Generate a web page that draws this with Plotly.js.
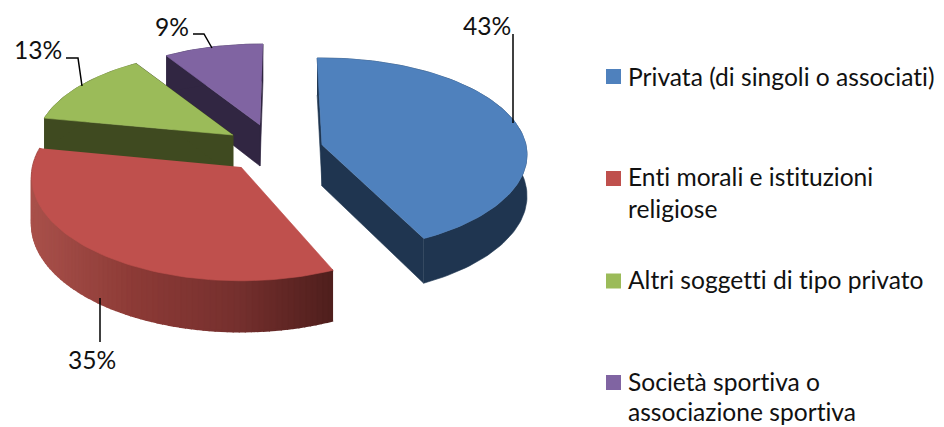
<!DOCTYPE html>
<html><head><meta charset="utf-8">
<script src="https://cdn.plot.ly/plotly-3.0.1.min.js"></script>
<style>html,body{margin:0;padding:0;background:#fff}
svg text{font-variant-ligatures:none !important;font-feature-settings:"liga" 0,"clig" 0,"dlig" 0 !important}</style></head>
<body><div id="chart" style="width:944px;height:427px"></div>
<script>
const categories = ["Privata (di singoli o associati)", "Enti morali e istituzioni", "Altri soggetti di tipo privato", "Società sportiva o"];
const categorySecondLines = ["", "religiose", "", "associazione sportiva"];
const shares = [43, 35, 13, 9];
const labels = ["43%", "35%", "13%", "9%"];
const topColors = ["#4F81BD", "#BF504D", "#9BBB59", "#8064A2"];
const sideColors = ["#1F3550", "#7A2E2B", "#3F4A20", "#312642"];

// 3D view of the exploded pie
const apexX = [322, 241, 233, 260];
const apexY = [145, 167, 135, 125];
const sliceScaleX = [1, 1.02, 0.96, 0.93];
const sliceScaleY = [1, 1.07, 0.96, 0.93];
const sliceDepth = [41, 46, 41, 41];
const edgeTrimStart = [-1.5, 1.5, 0, 0];
const edgeTrimEnd = [-1.8, 0, 0, 1];
const F = 204, G = 95.7, K = 0.1, DEPTH_PERSP = 0.1;
const FONT = "Lato, Carlito, Calibri, sans-serif";
const TEXT = "#111111";
const FS = 24.6;

const rad = d => d * Math.PI / 180;
function pt(i, tDeg) {
  const s = Math.sin(rad(tDeg)), c = Math.cos(rad(tDeg)), w = 1 + K * c;
  return [apexX[i] + sliceScaleX[i] * F * s / w, apexY[i] - sliceScaleY[i] * G * c / w];
}
function dep(i, tDeg) { return sliceDepth[i] * (1 - DEPTH_PERSP * Math.cos(rad(tDeg))); }
function arc(i, a, b) {
  const n = Math.max(2, Math.ceil(Math.abs(b - a) / 1.5)), o = [];
  for (let k = 0; k <= n; k++) o.push(a + (b - a) * k / n);
  return o;
}
function poly(xy, color, name, lw) {
  return {type: "scatter", mode: "lines", x: xy.map(p => p[0]), y: xy.map(p => p[1]),
    fill: "toself", fillcolor: color, line: {color: color, width: lw === undefined ? 0.6 : lw},
    hoverinfo: "skip", showlegend: false, name: name};
}
function lerp(stops, u) {
  const n = stops.length - 1, p = Math.min(n - 1e-6, Math.max(0, u * n)), j = Math.floor(p), f = p - j;
  return "rgb(" + [0, 1, 2].map(c => Math.round(stops[j][c] + (stops[j + 1][c] - stops[j][c]) * f)).join(",") + ")";
}
const redSideStops = [[78, 30, 28], [118, 48, 46], [140, 58, 54], [168, 80, 74]];

const ranges = [];
let cum = 0;
shares.forEach((v, i) => {
  const a = cum / 100 * 360, b = (cum + v) / 100 * 360;
  ranges.push([a + edgeTrimStart[i], b + edgeTrimEnd[i]]);
  cum += v;
});

function sliceTraces(i) {
  const [a, b] = ranges[i], out = [], name = categories[i];
  const A = [apexX[i], apexY[i]], AB = [apexX[i], apexY[i] + sliceDepth[i]];
  const wall = t => { const p = pt(i, t); return [p, A, AB, [p[0], p[1] + dep(i, t)]]; };
  if (i !== 1) {
    out.push(poly(wall(a), sideColors[i], name));
    out.push(poly(wall(b), sideColors[i], name));
  }
  if (i === 1) {
    const ts = arc(i, a, b);
    for (let k = 0; k + 1 < ts.length; k++) {
      const t0 = ts[k], t1 = ts[k + 1], p0 = pt(i, t0), p1 = pt(i, t1);
      const u = (335 - (p0[0] + p1[0]) / 2) / 300;
      out.push(poly([p0, p1, [p1[0], p1[1] + dep(i, t1)], [p0[0], p0[1] + dep(i, t0)]], lerp(redSideStops, u), name, 2.2));
    }
  } else {
    const ts = arc(i, a, b);
    const top = ts.map(t => pt(i, t));
    const bot = ts.slice().reverse().map(t => { const p = pt(i, t); return [p[0], p[1] + dep(i, t)]; });
    out.push(poly(top.concat(bot), sideColors[i], name));
  }
  const face = [A].concat(arc(i, a, b).map(t => pt(i, t)));
  out.push(poly(face, topColors[i], name));
  return out;
}

const drawOrder = [3, 2, 0, 1];
let traces = [];
drawOrder.forEach(i => { traces = traces.concat(sliceTraces(i)); });

// leader lines
const leaderX = [[513, 513], [100, 100], [82, 78, 66], [212, 204, 193]];
const leaderY = [[123, 34], [298, 342], [86, 58, 58], [48, 34, 34]];
leaderX.forEach((lx, i) => traces.push({type: "scatter", mode: "lines", x: lx, y: leaderY[i],
  line: {color: "#000", width: 1.5}, hoverinfo: "skip", showlegend: false}));

// legend keys
const keyX = [613.5, 613.5, 613.5, 613.5];
const keyY = [76.5, 178.5, 281, 382.5];
traces.push({type: "scatter", mode: "markers", x: keyX, y: keyY,
  marker: {symbol: "square", size: 15, color: topColors, line: {width: 0}}, hoverinfo: "skip", showlegend: false});

const labelX = [487, 92, 38, 172];
const labelY = [25, 359, 49, 26];
const annotations = labels.map((t, i) => ({text: t, x: labelX[i], y: labelY[i], xref: "x", yref: "y",
  showarrow: false, xanchor: "center", yanchor: "middle", font: {family: FONT, size: FS, color: TEXT}}));
const textLeft = 626;
const firstLineY = [76, 176, 279, 381];
const secondLineY = [0, 208, 0, 411];
categories.forEach((c, i) => {
  annotations.push({text: c, x: textLeft, y: firstLineY[i], xref: "x", yref: "y", showarrow: false,
    xanchor: "left", yanchor: "middle", font: {family: FONT, size: FS, color: TEXT}});
  if (categorySecondLines[i]) annotations.push({text: categorySecondLines[i], x: textLeft, y: secondLineY[i], xref: "x", yref: "y",
    showarrow: false, xanchor: "left", yanchor: "middle", font: {family: FONT, size: FS, color: TEXT}});
});

Plotly.newPlot("chart", traces, {
  width: 944, height: 427, margin: {l: 0, r: 0, t: 0, b: 0},
  paper_bgcolor: "#fff", plot_bgcolor: "#fff", showlegend: false,
  xaxis: {range: [0, 944], visible: false, fixedrange: true},
  yaxis: {range: [427, 0], visible: false, fixedrange: true},
  annotations: annotations
}, {displayModeBar: false, staticPlot: true});
</script></body></html>
